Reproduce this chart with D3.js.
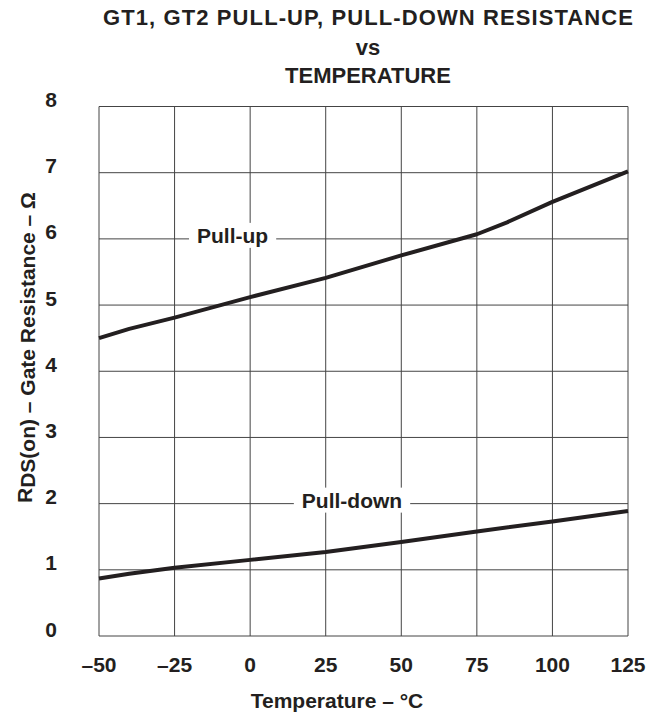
<!DOCTYPE html>
<html>
<head>
<meta charset="utf-8">
<script src="https://cdn.jsdelivr.net/npm/d3@7/dist/d3.min.js"></script>
<style>
  html, body { margin: 0; padding: 0; background: #fff; }
  svg { display: block; }
  text { font-family: "Liberation Sans", Arial, Helvetica, sans-serif; font-weight: bold; fill: #231f20; }
</style>
</head>
<body>
<svg id="chart" width="663" height="717"></svg>
<script>
// ---- data ----
const titleLines = ["GT1, GT2 PULL-UP, PULL-DOWN RESISTANCE", "vs", "TEMPERATURE"];
const xTicks = [-50, -25, 0, 25, 50, 75, 100, 125];
const xTickLabels = ["\u201350", "\u201325", "0", "25", "50", "75", "100", "125"];
const yTicks = [0, 1, 2, 3, 4, 5, 6, 7, 8];
const yTickLabels = ["0", "1", "2", "3", "4", "5", "6", "7", "8"];

const pullUpTemp = [-50, -40, -25, 0, 25, 50, 75, 85, 100, 125];
const pullUpRes  = [4.50, 4.64, 4.81, 5.12, 5.41, 5.75, 6.07, 6.25, 6.56, 7.02];

const pullDownTemp = [-50, -40, -25, 0, 25, 50, 75, 100, 125];
const pullDownRes  = [0.87, 0.94, 1.03, 1.15, 1.27, 1.42, 1.58, 1.73, 1.89];

const seriesLabels = ["Pull-up", "Pull-down"];
const labelTemp = [-5.8, 33.7];
const labelRes = [6, 2];

// ---- layout ----
const svg = d3.select("#chart");
const x = d3.scaleLinear().domain([-50, 125]).range([99, 628]);
const y = d3.scaleLinear().domain([0, 8]).range([636, 106.5]);
const ink = "#231f20";
const gridColor = "#444444";

// title
svg.append("g").selectAll("text").data(titleLines).join("text")
  .attr("x", 368).attr("y", (d, i) => [25, 55, 83][i])
  .attr("text-anchor", "middle").style("font-size", "22px")
  .each(function (d, i) {
    if (i === 0) d3.select(this).attr("textLength", 530).attr("lengthAdjust", "spacing");
  })
  .text(d => d);

// grid
const g = svg.append("g");
g.selectAll("line.v").data(xTicks).join("line").attr("class", "v")
  .attr("x1", d => x(d)).attr("x2", d => x(d))
  .attr("y1", y(0)).attr("y2", y(8))
  .attr("stroke", gridColor).attr("stroke-width", 1);
g.selectAll("line.h").data(yTicks).join("line").attr("class", "h")
  .attr("x1", x(-50)).attr("x2", x(125))
  .attr("y1", d => y(d)).attr("y2", d => y(d))
  .attr("stroke", gridColor).attr("stroke-width", 1);

// series
const line = d3.line().x(d => x(d[0])).y(d => y(d[1]));
const series = [d3.zip(pullUpTemp, pullUpRes), d3.zip(pullDownTemp, pullDownRes)];
svg.append("g").selectAll("path").data(series).join("path")
  .attr("d", line).attr("fill", "none").attr("stroke", ink)
  .attr("stroke-width", 4).attr("stroke-linejoin", "round");

// series labels with white knock-out boxes
const labG = svg.append("g");
seriesLabels.forEach((lab, i) => {
  const cx = x(labelTemp[i]), cy = y(labelRes[i]);
  const t = labG.append("text").attr("x", cx).attr("y", cy + 4.5)
    .attr("text-anchor", "middle").style("font-size", "21px").text(lab);
  const bb = t.node().getBBox();
  labG.insert("rect", "text")
    .attr("x", bb.x - 8).attr("width", bb.width + 16)
    .attr("y", cy - 16).attr("height", 25).attr("fill", "#fff");
});

// x tick labels
svg.append("g").selectAll("text").data(xTicks).join("text")
  .attr("x", d => x(d)).attr("y", 671.5).attr("text-anchor", "middle")
  .style("font-size", "21px").text((d, i) => xTickLabels[i]);

// y tick labels
svg.append("g").selectAll("text").data(yTicks).join("text")
  .attr("x", 51).attr("y", d => y(d) + 0.5).attr("text-anchor", "middle")
  .style("font-size", "21px").text((d, i) => yTickLabels[i]);

// x axis title
svg.append("text").attr("x", 337).attr("y", 708).attr("text-anchor", "middle")
  .style("font-size", "21px").text("Temperature \u2013 \u00b0C");

// y axis title
const yt = svg.append("text").attr("transform", "translate(34.5,503) rotate(-90)")
  .attr("text-anchor", "start").style("font-size", "21px");
yt.append("tspan").attr("dy", -3).text("R");
yt.append("tspan").attr("dy", 3).text("DS(on)");
yt.append("tspan").text(" \u2013 Gate Resistance \u2013 \u03a9");
</script>
</body>
</html>
